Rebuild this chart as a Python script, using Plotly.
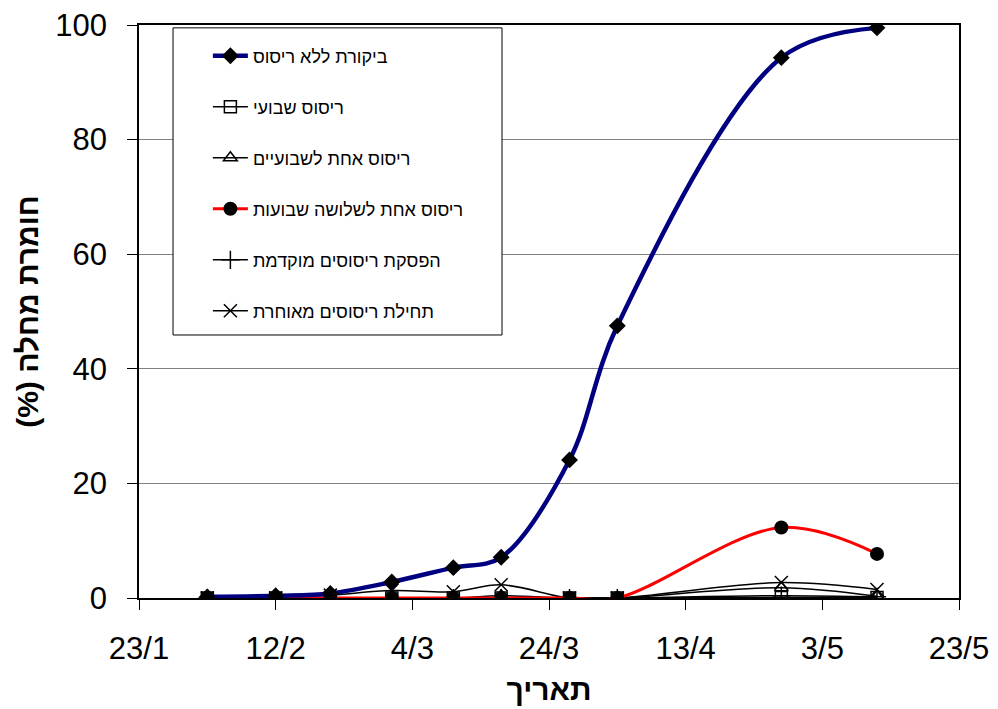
import plotly.graph_objects as go

# fechas de observación (año sin bisiesto, el original sólo muestra día/mes)
fechas = ["2007-02-02", "2007-02-12", "2007-02-20", "2007-03-01", "2007-03-10",
          "2007-03-17", "2007-03-27", "2007-04-03", "2007-04-27", "2007-05-11"]

# חומרת מחלה (%) por tratamiento
bikoret = [0.2, 0.4, 0.8, 2.8, 5.3, 7.1, 24.1, 47.5, 94.3, 99.5]
shvui = [0, 0, 0, 0, 0, 0, 0, 0, 0.1, 0.1]
shvuayim = [0, 0, 0, 0, 0, 0.4, 0, 0, 1.8, 0.3]
shlosha = [0, 0, 0, 0, 0, 0, 0, 0, 12.3, 7.7]
hafsaka = [0, 0, 0, 0, 0, 0, 0, 0, 0.4, 0.2]
meuheret = [0, 0, 0.5, 1.3, 1.1, 2.3, 0, 0, 2.7, 1.5]

nombres = ["ביקורת ללא ריסוס", "ריסוס שבועי", "ריסוס אחת לשבועיים",
           "ריסוס אחת לשלושה שבועות", "הפסקת ריסוסים מוקדמת", "תחילת ריסוסים מאוחרת"]

x_ticks = ["2007-01-23", "2007-02-12", "2007-03-04", "2007-03-24",
           "2007-04-13", "2007-05-03", "2007-05-23"]
x_labels = ["23/1", "12/2", "4/3", "24/3", "13/4", "3/5", "23/5"]

FUENTE = "Arial, Liberation Sans, sans-serif"

fig = go.Figure()

estilos = [
    (bikoret, dict(color="#000080", width=4.5), dict(symbol="diamond", size=13, color="black")),
    (shvui, dict(color="black", width=1.5), dict(symbol="square-open", size=12, color="black", line=dict(width=1.5))),
    (shvuayim, dict(color="black", width=1.5), dict(symbol="triangle-up-open", size=12, color="black", line=dict(width=1.5))),
    (shlosha, dict(color="red", width=3), dict(symbol="circle", size=14, color="black")),
    (hafsaka, dict(color="black", width=1.5), dict(symbol="cross-thin-open", size=13, color="black", line=dict(width=1.5))),
    (meuheret, dict(color="black", width=1.5), dict(symbol="x-thin-open", size=13, color="black", line=dict(width=1.5))),
]

# orden de dibujo: negras primero, luego roja y azul encima
for i in [1, 2, 4, 5, 3, 0]:
    valores, linea, marcador = estilos[i]
    fig.add_trace(go.Scatter(
        x=fechas, y=valores, name=nombres[i],
        mode="lines+markers",
        line=dict(shape="spline", smoothing=1.0, **linea),
        marker=marcador,
        legendgroup=str(i), legendrank=i,
    ))

# caja de la leyenda (cubre la grilla, como en el original)
fig.add_shape(type="rect", xref="paper", yref="paper",
              x0=0.0415, x1=0.4427, y0=0.459, y1=0.995,
              line=dict(color="black", width=1), fillcolor="white", layer="above")

fig.update_layout(
    width=998, height=709,
    margin=dict(l=139, r=39, t=25, b=111),
    paper_bgcolor="white", plot_bgcolor="white",
    font=dict(family=FUENTE, color="black"),
    legend=dict(x=0.084, y=0.978, xanchor="left", yanchor="top",
                bgcolor="rgba(0,0,0,0)", borderwidth=0,
                font=dict(size=18, family=FUENTE), itemwidth=35,
                traceorder="grouped", tracegroupgap=24.6),
    xaxis=dict(
        type="date", range=["2007-01-23", "2007-05-23"], automargin=False,
        tickmode="array", tickvals=x_ticks, ticktext=x_labels,
        tickfont=dict(size=31), ticks="outside", ticklen=10, tickcolor="black",
        ticklabelstandoff=12,
        showline=True, linecolor="black", linewidth=1.5, mirror=True,
        showgrid=False, zeroline=False,
        title=dict(text="<b>תאריך</b>", font=dict(size=30), standoff=14),
    ),
    yaxis=dict(
        range=[0, 100], tickvals=[0, 20, 40, 60, 80, 100], automargin=False,
        tickfont=dict(size=31), ticks="outside", ticklen=10, tickcolor="black",
        ticklabelstandoff=14,
        showline=True, linecolor="black", linewidth=1.5, mirror=True,
        showgrid=True, gridcolor="#808080", gridwidth=1, zeroline=False,
        title=dict(text="<b>(%) חומרת מחלה</b>", font=dict(size=30), standoff=8),
    ),
)

# sin el margen por defecto del body, el lienzo ocupa justo la ventana
fig.write_html("out.html", config={"displayModeBar": False},
               post_script="document.body.style.margin='0';")
